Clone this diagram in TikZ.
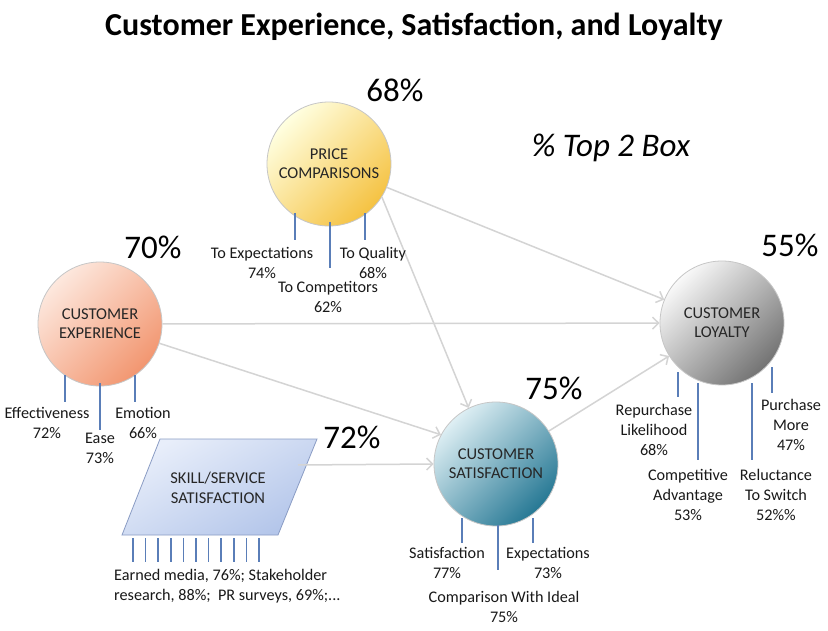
\documentclass[tikz,border=0pt]{standalone}
\usepackage{fontspec}
\setmainfont{Carlito}
\usetikzlibrary{arrows.meta, positioning, calc}
\definecolor{flowgray}{HTML}{D4D4D4}
\definecolor{stemblue}{HTML}{5A7EB8}
\definecolor{skilledge}{HTML}{8A9CC4}

\tikzset{
  bubble/.style={circle, draw=gray!45, line width=0.8pt, minimum size=124pt, inner sep=0pt,
    align=center, text=black!85, font=\fontsize{16.5}{19}\selectfont},
  pct/.style={font=\fontsize{33}{36}\selectfont, inner sep=0pt},
  sub/.style={align=center, font=\fontsize{16.2}{20}\selectfont, inner sep=0pt, text=black!90},
  stem/.style={stemblue, line width=1.5pt},
  flow/.style={flowgray, line width=1.5pt, -{Straight Barb[length=6pt, width=12pt]}},
}

\begin{document}
\begin{tikzpicture}[x=1pt, y=-1pt]
  \fill[white] (0,0) rectangle (828,631);
  \useasboundingbox (0,0) rectangle (828,631);

  \node[font=\fontsize{32}{36}\selectfont\bfseries] (title) at (414,27)
    {Customer Experience, Satisfaction, and Loyalty};
  \node[font=\fontsize{33}{36}\selectfont\itshape] (topbox) at (611,148) {\% Top 2 Box};

  % circles
  \node[bubble, top color=yellow!12, bottom color={rgb,255:red,245;green,194;blue,66}, shading angle=45] (price) at (329,164) {PRICE\\COMPARISONS};
  \node[bubble, top color={rgb,255:red,253;green,232;blue,222}, bottom color={rgb,255:red,242;green,150;blue,112}, shading angle=45] (cexp) at (100,324) {CUSTOMER\\EXPERIENCE};
  \node[bubble, top color={rgb,255:red,222;green,239;blue,244}, bottom color={rgb,255:red,38;green,120;blue,148}, shading angle=45] (csat) at (496,464) {CUSTOMER\\SATISFACTION};
  \node[bubble, top color=gray!5, bottom color=black!55, shading angle=45] (loyal) at (722,323) {CUSTOMER\\LOYALTY};

  % skill/service box
  \draw[skilledge, line width=0.8pt, top color={rgb,255:red,232;green,238;blue,250}, bottom color={rgb,255:red,180;green,198;blue,234}, shading angle=30]
    (160,439) -- (317,439) -- (278,535) -- (122,535) -- cycle;
  \node[font=\fontsize{16.5}{20}\selectfont, align=center, text=black!85] (skill) at (218,488) {SKILL/SERVICE\\SATISFACTION};
  \coordinate (skillout) at (298,465);

  % percentages
  \node[pct] (p68) at (395,90) {68\%};
  \node[pct] (p70) at (153,247) {70\%};
  \node[pct] (p75) at (554,388) {75\%};
  \node[pct] (p55) at (790,245) {55\%};
  \node[pct] (p72) at (352,437) {72\%};

  % connectors
  \draw[flow] (price) -- (loyal);
  \draw[flow] (price.-32) -- (csat.116);
  \draw[flow] (cexp) -- (loyal);
  \draw[flow] (cexp.-18) -- (csat.152);
  \draw[flow] (skillout) -- (csat.180);
  \draw[flow] (csat) -- (loyal);

  % price comparisons
  \draw[stem] (295,213) -- (295,240);
  \draw[stem] (330,222) -- (330,268);
  \draw[stem] (365,213) -- (365,240);
  \node[sub] (toexp) at (262,263) {To Expectations\\74\%};
  \node[sub] (toqual) at (373,263) {To Quality\\68\%};
  \node[sub] (tocomp) at (328,297) {To Competitors\\62\%};

  % customer experience
  \draw[stem] (65,375) -- (65,402);
  \draw[stem] (100,383) -- (100,430);
  \draw[stem] (135,375) -- (135,402);
  \node[sub] (effect) at (47,423) {Effectiveness\\72\%};
  \node[sub] (emotion) at (143,423) {Emotion\\66\%};
  \node[sub] (ease) at (100,448) {Ease\\73\%};

  % skill/service
  \foreach \i in {0,...,10}
    \draw[stem] ({133+12.6*\i},538) -- ++(0,24);
  \node[sub, align=left, anchor=west] (skilltxt) at (114,586)
    {Earned media, 76\%; Stakeholder\\research, 88\%;\ \ PR surveys, 69\%;...};

  % customer satisfaction
  \draw[stem] (462,518) -- (462,543);
  \draw[stem] (498,525) -- (498,570);
  \draw[stem] (533,518) -- (533,543);
  \node[sub] (satis) at (447,563) {Satisfaction\\77\%};
  \node[sub] (expect) at (548,563) {Expectations\\73\%};
  \node[sub] (ideal) at (504,607) {Comparison With Ideal\\75\%};

  % customer loyalty
  \draw[stem] (678,372) -- (678,397);
  \draw[stem] (698,383) -- (698,460);
  \draw[stem] (752,383) -- (752,460);
  \draw[stem] (772,367) -- (772,393);
  \node[sub] (repur) at (654,430) {Repurchase\\Likelihood\\68\%};
  \node[sub] (pmore) at (791,425) {Purchase\\More\\47\%};
  \node[sub] (compadv) at (688,495) {Competitive\\Advantage\\53\%};
  \node[sub] (reluct) at (776,495) {Reluctance\\To Switch\\52\%\%};
\end{tikzpicture}
\end{document}
